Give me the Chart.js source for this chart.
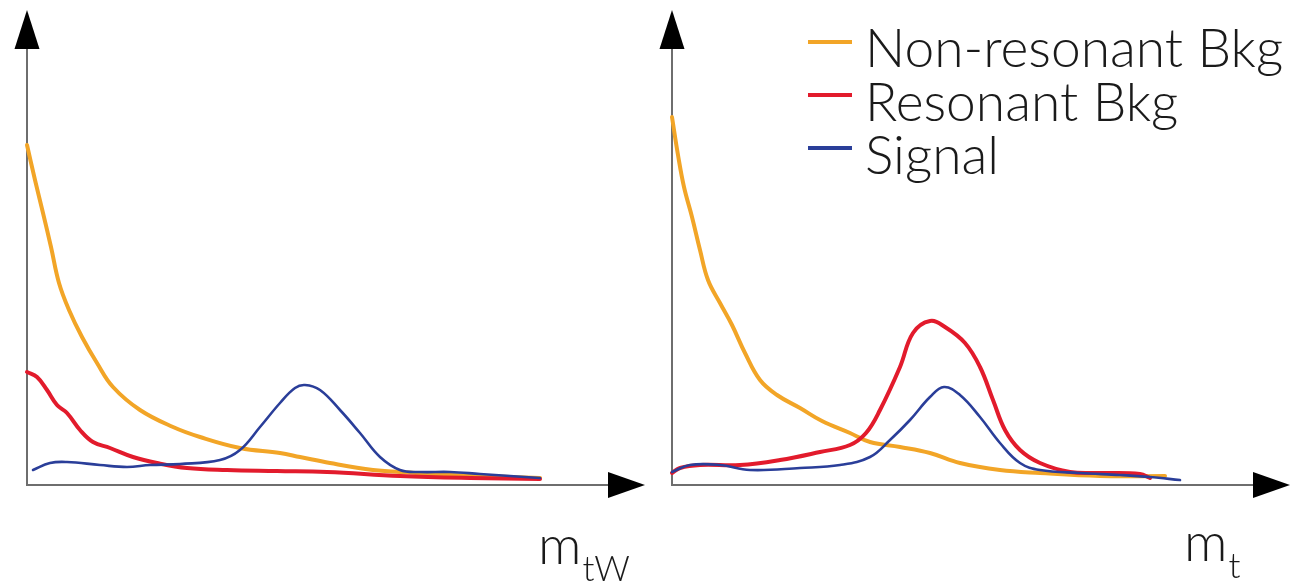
<!DOCTYPE html>
<html>
<head>
<meta charset="utf-8">
<script src="https://cdn.jsdelivr.net/npm/chart.js@4.4.1/dist/chart.umd.min.js"></script>
<style>
  html, body { margin: 0; padding: 0; background: #fff; }
  #wrap { position: relative; width: 1291px; height: 586px; overflow: hidden; font-family: Lato, "Open Sans", sans-serif; font-weight: 300; color: #1a1a1a; }
  .pane { position: absolute; top: 0; }
  .lab { position: absolute; white-space: nowrap; line-height: 1; font-size: 54px; }
  .lab span { font-size: 35px; vertical-align: -17px; margin-left: 1px; }
  .sw { position: absolute; height: 4px; width: 44px; }
  .lg { position: absolute; white-space: nowrap; font-size: 53.3px; line-height: 54px; }
</style>
</head>
<body>
<div id="wrap">
  <div class="pane" style="left:0;width:650px;height:586px"><canvas id="c1" width="650" height="586"></canvas></div>
  <div class="pane" style="left:645px;width:646px;height:586px"><canvas id="c2" width="646" height="586"></canvas></div>

  <div class="sw" style="left:808px;top:40px;background:#F2A527"></div>
  <div class="sw" style="left:808px;top:93px;background:#E21B2C"></div>
  <div class="sw" style="left:808px;top:146px;background:#2A3E99"></div>
  <div class="lg" style="left:865px;top:19px">Non-resonant Bkg</div>
  <div class="lg" style="left:865px;top:73px">Resonant Bkg</div>
  <div class="lg" style="left:865px;top:126px">Signal</div>

  <div class="lab" style="left:538px;top:517px">m<span>tW</span></div>
  <div class="lab" style="left:1184px;top:514px">m<span>t</span></div>
</div>
<script>
// ---- data (arbitrary units; x = invariant mass bin, y = events) ----
// left panel: m_tW
const mtwNonResX = [0, 8, 16, 24, 32, 42, 55, 70, 86, 113, 146, 173, 213, 253, 273, 303, 346, 373, 423, 483, 513];
const mtwNonResY = [340, 305, 272, 238, 202, 175, 148, 122, 98, 75, 58, 48, 37, 32, 28, 22, 15, 13, 10, 8, 7];
const mtwResX = [0, 10, 20, 30, 40, 53, 66, 83, 106, 130, 160, 200, 250, 300, 373, 443, 513];
const mtwResY = [113, 108, 95, 80, 72, 55, 43, 37, 28, 22, 17, 15, 14, 13, 9, 7, 6];
const mtwSigX = [6, 23, 40, 73, 100, 123, 153, 193, 213, 233, 253, 268, 278, 293, 313, 333, 353, 373, 393, 423, 453, 483, 513];
const mtwSigY = [15, 22, 23, 20, 18, 20, 21, 25, 35, 58, 82, 97, 100, 95, 75, 52, 28, 15, 13, 13, 11, 9, 7];
// right panel: m_t
const mtNonResX = [0, 6, 12, 20, 28, 36, 48, 60, 73, 88, 105, 128, 150, 178, 198, 228, 258, 288, 328, 368, 428, 493];
const mtNonResY = [368, 330, 298, 268, 235, 205, 182, 160, 132, 105, 90, 77, 64, 52, 43, 38, 32, 22, 15, 12, 9, 9];
const mtResX = [0, 8, 28, 68, 108, 148, 178, 194, 208, 228, 241, 258, 273, 293, 308, 321, 333, 348, 368, 398, 428, 468, 478];
const mtResY = [12, 17, 20, 20, 25, 33, 40, 52, 75, 118, 152, 164, 158, 142, 118, 85, 55, 35, 22, 13, 12, 11, 7];
const mtSigX = [0, 18, 48, 78, 128, 168, 198, 218, 238, 258, 272, 288, 308, 328, 348, 368, 408, 448, 478, 508];
const mtSigY = [13, 20, 20, 15, 17, 20, 28, 45, 65, 88, 98, 90, 68, 42, 22, 15, 12, 10, 8, 5];

const seriesNames = ['Signal', 'Resonant Bkg', 'Non-resonant Bkg'];
const seriesColors = ['#2A3E99', '#E21B2C', '#F2A527'];
const seriesWidths = [2.6, 4, 4];

function pts(xs, ys) { return xs.map((x, i) => ({ x: x, y: ys[i] })); }

const arrowPlugin = {
  id: 'arrows',
  beforeDatasetsDraw(chart) {
    const ctx = chart.ctx;
    const xs = chart.scales.x, ys = chart.scales.y;
    const x0 = xs.getPixelForValue(0), y0 = ys.getPixelForValue(0);
    const top = chart.chartArea.top, right = chart.chartArea.right;
    ctx.save();
    ctx.strokeStyle = '#6e6e6e';
    ctx.lineWidth = 2;
    ctx.beginPath();
    ctx.moveTo(x0, top + 30); ctx.lineTo(x0, y0);
    ctx.lineTo(right - 30, y0);
    ctx.stroke();
    ctx.fillStyle = '#000';
    ctx.beginPath();
    ctx.moveTo(x0, top); ctx.lineTo(x0 - 12.5, top + 39); ctx.lineTo(x0 + 12.5, top + 39); ctx.closePath();
    ctx.fill();
    ctx.beginPath();
    ctx.moveTo(right, y0); ctx.lineTo(right - 37, y0 - 13); ctx.lineTo(right - 37, y0 + 13); ctx.closePath();
    ctx.fill();
    ctx.restore();
  }
};

function makeChart(id, sets, padRight) {
  return new Chart(document.getElementById(id), {
    type: 'line',
    data: {
      datasets: sets.map((d, i) => ({
        label: seriesNames[i],
        data: d,
        borderColor: seriesColors[i],
        borderWidth: seriesWidths[i],
        pointRadius: 0,
        fill: false,
        tension: 0.4,
        borderCapStyle: 'round',
        borderJoinStyle: 'round'
      }))
    },
    options: {
      responsive: false,
      animation: false,
      devicePixelRatio: 1,
      layout: { padding: { left: 27, top: 10, right: padRight, bottom: 101 } },
      plugins: { legend: { display: false }, tooltip: { enabled: false } },
      scales: {
        x: { type: 'linear', min: 0, max: 618, display: false },
        y: { type: 'linear', min: 0, max: 475, display: false }
      },
      clip: false
    },
    plugins: [arrowPlugin]
  });
}

makeChart('c1', [pts(mtwSigX, mtwSigY), pts(mtwResX, mtwResY), pts(mtwNonResX, mtwNonResY)], 5);
makeChart('c2', [pts(mtSigX, mtSigY), pts(mtResX, mtResY), pts(mtNonResX, mtNonResY)], 1);
</script>
</body>
</html>
